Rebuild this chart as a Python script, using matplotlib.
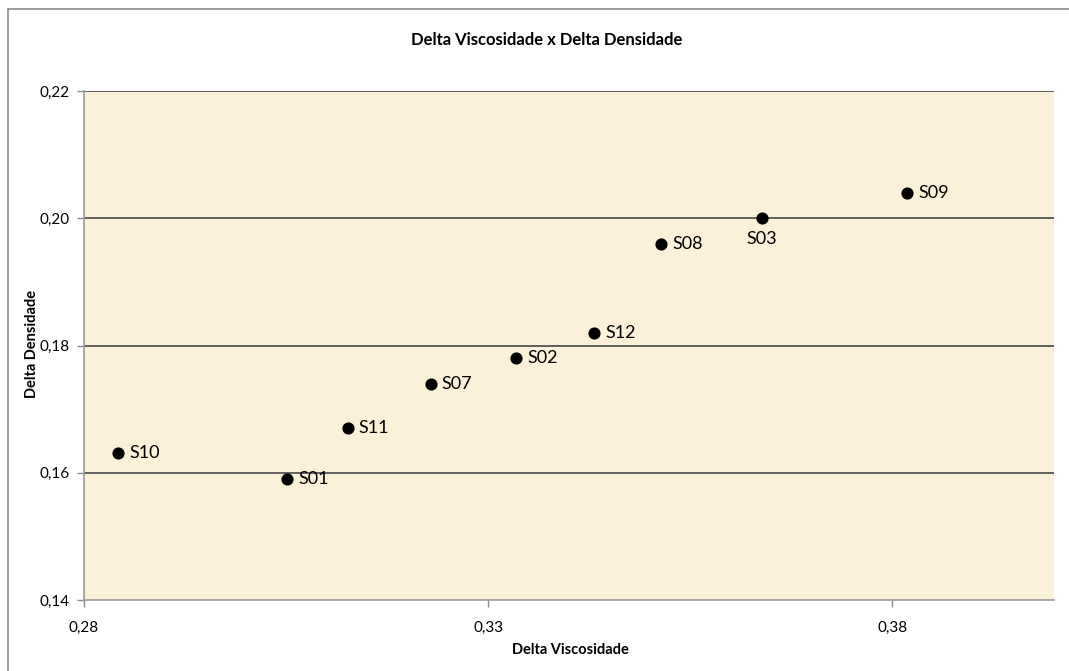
import matplotlib
matplotlib.use("Agg")
import matplotlib.pyplot as plt
from matplotlib.lines import Line2D
from matplotlib.ticker import FuncFormatter

plt.rcParams['font.family'] = ['Lato', 'DejaVu Sans']

# data
samples = ['S10', 'S01', 'S11', 'S07', 'S02', 'S12', 'S08', 'S03', 'S09']
delta_visc = [0.2842, 0.3051, 0.3126, 0.3229, 0.3335, 0.3431, 0.3514, 0.3639, 0.3818]
delta_dens = [0.1631, 0.1590, 0.1670, 0.1740, 0.1780, 0.1820, 0.1960, 0.2000, 0.2040]
x_ticks = [0.28, 0.33, 0.38]
y_ticks = [0.14, 0.16, 0.18, 0.20, 0.22]

fig = plt.figure(figsize=(10.69, 6.71), dpi=100)
ax = fig.add_axes([84 / 1069, 1 - 600 / 671, (1054 - 84) / 1069, (600 - 91) / 671])

# outer chart border, only left and top visible in the reference
bx, by = 8 / 1069, 1 - 9 / 671
fig.lines.append(Line2D([bx, bx], [0, by], transform=fig.transFigure, color='#8c8c8c', lw=1.2))
fig.lines.append(Line2D([bx, 1], [by, by], transform=fig.transFigure, color='#8c8c8c', lw=1.2))

ax.set_facecolor('#FBF0D8')
ax.set_xlim(0.28, 0.40)
ax.set_ylim(0.14, 0.22)
ax.set_xticks(x_ticks)
ax.set_yticks(y_ticks)
comma = FuncFormatter(lambda v, p: f'{v:.2f}'.replace('.', ','))
ax.xaxis.set_major_formatter(comma)
ax.yaxis.set_major_formatter(comma)
ax.tick_params(axis='both', direction='out', length=5, width=1, color='#8c8c8c',
               labelsize=11, pad=5)
ax.tick_params(axis='x', pad=10)

for side in ['right', 'top']:
    ax.spines[side].set_visible(False)
for side in ['left', 'bottom']:
    ax.spines[side].set_color('#9a9a9a')
    ax.spines[side].set_linewidth(1.2)

for yv in y_ticks[1:]:
    ax.axhline(yv, color='#555555', lw=1.3, zorder=1)

ax.scatter(delta_visc, delta_dens, s=60, color='black', zorder=3)

for name, xv, yv in zip(samples, delta_visc, delta_dens):
    if name == 'S03':
        ax.annotate(name, (xv, yv), xytext=(0, -15), textcoords='offset points',
                    ha='center', va='center', fontsize=13)
    else:
        ax.annotate(name, (xv, yv), xytext=(8, 0), textcoords='offset points',
                    ha='left', va='center', fontsize=13)

fig.text(547 / 1069, 1 - 40 / 671, 'Delta Viscosidade x Delta Densidade',
         ha='center', va='center', fontsize=12, fontweight='bold')
fig.text(570 / 1069, 1 - 650 / 671, 'Delta Viscosidade',
         ha='center', va='center', fontsize=10.5, fontweight='bold')
fig.text(32 / 1069, 1 - 344 / 671, 'Delta Densidade', rotation=90,
         ha='center', va='center', fontsize=10.5, fontweight='bold')

fig.savefig('out.png', dpi=100)
